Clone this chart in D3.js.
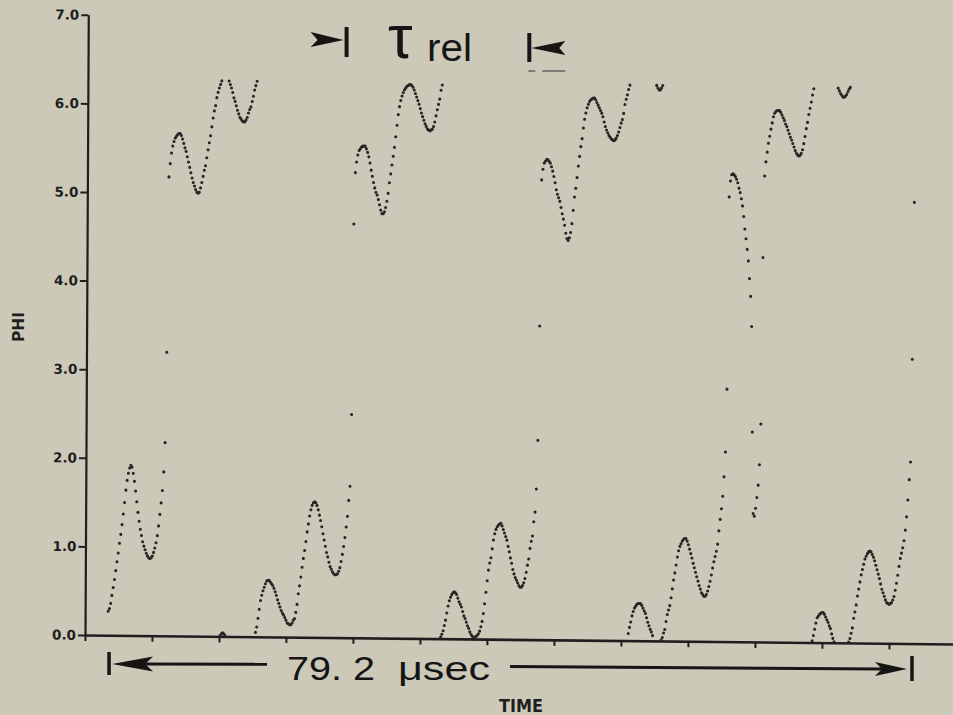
<!DOCTYPE html>
<html>
<head>
<meta charset="utf-8">
<script src="https://cdn.jsdelivr.net/npm/d3@7"></script>
<style>
  html, body { margin: 0; padding: 0; background: #cdc9b8; }
  svg { display: block; }
</style>
</head>
<body>
<svg id="chart" width="953" height="715"></svg>
<script>
// Phase PHI (radians, wrapped to 0..2π), one sample every 0.12 µs.
// Split into consecutive sweeps of the phase record.
const phiSweep1 = [
  0.27, 0.30, 0.36, 0.45, 0.54, 0.63, 0.73, 0.83, 0.93, 1.04,
  1.14, 1.25, 1.37, 1.50, 1.64, 1.75, 1.83, 1.89, 1.92, 1.90,
  1.83, 1.74, 1.63, 1.51, 1.39, 1.29, 1.20, 1.13, 1.06, 1.01,
  0.97, 0.93, 0.90, 0.88, 0.87, 0.88, 0.90, 0.94, 0.99, 1.05,
  1.13, 1.24, 1.37, 1.50, 1.64, 1.85, 2.18, 3.20, 5.18, 5.33,
  5.45, 5.53, 5.58, 5.62, 5.64, 5.66, 5.67, 5.67, 5.65, 5.61,
  5.56, 5.51, 5.47, 5.41, 5.35, 5.29, 5.23, 5.17, 5.12, 5.08,
  5.04, 5.01, 5.00, 5.01, 5.06, 5.12, 5.19, 5.26, 5.31, 5.40,
  5.49, 5.57, 5.65, 5.75, 5.85, 5.93, 5.99, 6.08, 6.14, 6.19,
  6.23, 6.27, 0.01, 0.03, 0.04, 0.03, 0.01, 6.27, 6.23, 6.19,
  6.14, 6.08, 6.04, 5.99, 5.94, 5.90, 5.86, 5.84, 5.82, 5.81,
  5.81, 5.83, 5.86, 5.91, 5.95, 5.98, 6.04, 6.10, 6.17, 6.22,
  6.27
];
const phiSweep2 = [
  0.05, 0.11, 0.21, 0.31, 0.41, 0.47, 0.52, 0.56, 0.60, 0.63,
  0.64, 0.64, 0.62, 0.60, 0.58, 0.55, 0.51, 0.47, 0.42, 0.38,
  0.34, 0.30, 0.27, 0.25, 0.22, 0.19, 0.16, 0.15, 0.14, 0.14,
  0.16, 0.19, 0.21, 0.28, 0.37, 0.49, 0.58, 0.68, 0.79, 0.89,
  0.98, 1.08, 1.19, 1.28, 1.37, 1.44, 1.49, 1.52, 1.53, 1.52,
  1.49, 1.44, 1.38, 1.32, 1.25, 1.17, 1.10, 1.03, 0.96, 0.91,
  0.85, 0.80, 0.77, 0.74, 0.72, 0.71, 0.71, 0.72, 0.75, 0.79,
  0.86, 0.94, 1.03, 1.13, 1.25, 1.37, 1.55, 1.71, 2.52, 4.67,
  5.25, 5.37, 5.45, 5.50, 5.52, 5.54, 5.55, 5.55, 5.55, 5.52,
  5.48, 5.43, 5.36, 5.28, 5.21, 5.14, 5.08, 5.03, 5.00, 4.95,
  4.89, 4.83, 4.79, 4.79, 4.81, 4.86, 4.93, 5.02, 5.14, 5.24,
  5.34, 5.44, 5.54, 5.66, 5.79, 5.91, 6.00, 6.07, 6.12, 6.16,
  6.19, 6.21, 6.23, 6.24, 6.25, 6.25, 6.24, 6.22, 6.19, 6.15,
  6.11, 6.07, 6.03, 5.98, 5.93, 5.89, 5.85, 5.81, 5.78, 5.75,
  5.74, 5.73, 5.74, 5.75, 5.78, 5.83, 5.90, 5.97, 6.03, 6.09,
  6.19, 6.25
];
const phiSweep3 = [
  0.02, 0.05, 0.09, 0.15, 0.21, 0.29, 0.37, 0.43, 0.47, 0.50,
  0.52, 0.53, 0.52, 0.50, 0.46, 0.42, 0.39, 0.36, 0.31, 0.26,
  0.23, 0.19, 0.15, 0.12, 0.08, 0.05, 0.03, 0.02, 0.02, 0.03,
  0.04, 0.06, 0.09, 0.14, 0.20, 0.29, 0.40, 0.53, 0.66, 0.78,
  0.86, 0.92, 1.02, 1.12, 1.19, 1.24, 1.27, 1.29, 1.30, 1.31,
  1.28, 1.24, 1.20, 1.16, 1.12, 1.05, 0.99, 0.92, 0.86, 0.79,
  0.74, 0.70, 0.67, 0.64, 0.61, 0.59, 0.59, 0.61, 0.64, 0.69,
  0.76, 0.84, 0.91, 1.03, 1.11, 1.17, 1.33, 1.44, 1.70, 2.25,
  3.54, 5.19, 5.31, 5.38, 5.40, 5.42, 5.42, 5.40, 5.38, 5.34,
  5.29, 5.23, 5.16, 5.08, 5.03, 4.99, 4.95, 4.88, 4.81, 4.75,
  4.68, 4.59, 4.53, 4.51, 4.54, 4.60, 4.70, 4.85, 5.00, 5.10,
  5.22, 5.35, 5.46, 5.57, 5.66, 5.78, 5.88, 5.95, 6.01, 6.05,
  6.08, 6.10, 6.11, 6.12, 6.12, 6.10, 6.07, 6.04, 6.01, 5.98,
  5.95, 5.91, 5.85, 5.80, 5.76, 5.73, 5.70, 5.68, 5.66, 5.65,
  5.64, 5.65, 5.67, 5.70, 5.74, 5.79, 5.84, 5.88, 5.95, 6.05,
  6.11, 6.16, 6.22, 6.27
];
const phiSweep4 = [
  0.08, 0.15, 0.21, 0.28, 0.33, 0.37, 0.39, 0.41, 0.42, 0.42,
  0.42, 0.40, 0.37, 0.34, 0.31, 0.26, 0.21, 0.17, 0.13, 0.10,
  0.06, 6.27, 6.24, 6.22, 6.22, 6.24, 6.27, 0.01, 0.04, 0.09,
  0.13, 0.22, 0.30, 0.35, 0.40, 0.49, 0.59, 0.69, 0.77, 0.86,
  0.95, 1.02, 1.07, 1.10, 1.13, 1.15, 1.16, 1.16, 1.13, 1.09,
  1.04, 0.99, 0.94, 0.88, 0.83, 0.78, 0.73, 0.68, 0.63, 0.59,
  0.55, 0.53, 0.51, 0.51, 0.53, 0.57, 0.62, 0.68, 0.75, 0.83,
  0.90, 0.96, 1.02, 1.10, 1.25, 1.38, 1.50, 1.64, 1.86, 2.14,
  2.85, 5.02, 5.20, 5.27, 5.28, 5.27, 5.25, 5.22, 5.18, 5.12,
  5.07, 5.00, 4.92, 4.80, 4.66, 4.55, 4.43, 4.30, 4.10, 3.90,
  3.56, 2.37, 1.45, 1.42, 1.51, 1.63, 1.77, 2.00, 2.46, 4.34,
  5.26, 5.42, 5.53, 5.63, 5.71, 5.79, 5.86, 5.93, 5.97, 5.99,
  6.00, 6.00, 6.00, 5.98, 5.95, 5.92, 5.89, 5.85, 5.82, 5.78,
  5.74, 5.70, 5.67, 5.63, 5.59, 5.55, 5.52, 5.50, 5.49, 5.50,
  5.52, 5.56, 5.63, 5.71, 5.80, 5.87, 5.96, 6.03, 6.10, 6.18,
  6.25
];
const phiSweep5 = [
  0.02, 0.08, 0.15, 0.22, 0.28, 0.30, 0.32, 0.33, 0.34, 0.34,
  0.32, 0.29, 0.26, 0.23, 0.19, 0.16, 0.10, 0.05, 0.01, 6.26,
  6.23, 6.20, 6.18, 6.16, 6.16, 6.17, 6.19, 6.22, 6.25, 6.27,
  0.01, 0.05, 0.11, 0.17, 0.28, 0.35, 0.43, 0.53, 0.61, 0.69,
  0.77, 0.83, 0.89, 0.95, 0.98, 1.01, 1.03, 1.04, 1.03, 1.00,
  0.97, 0.93, 0.88, 0.83, 0.78, 0.73, 0.67, 0.61, 0.57, 0.53,
  0.49, 0.46, 0.45, 0.44, 0.45, 0.46, 0.49, 0.53, 0.60, 0.68,
  0.77, 0.87, 0.96, 1.02, 1.08, 1.16, 1.28, 1.43, 1.62, 1.85,
  2.05, 3.21, 4.98
];

const sampleStepUs = 0.12;          // time between plotted samples
const spanUs = 79.2;                // length of the record
const tauRelUs = [23.5, 41.5];      // relaxation interval marked on top
const yTicks = [0, 1, 2, 3, 4, 5, 6, 7];
const xTicks = [-2.27, 4.33, 10.93, 17.53, 24.13, 30.73, 37.33, 43.93,
                50.53, 57.13, 63.73, 70.33, 76.93];

const phi = [].concat(phiSweep1, phiSweep2, phiSweep3, phiSweep4, phiSweep5);
const samples = phi.map((v, i) => ({ t: i * sampleStepUs, phi: v }));

const svg = d3.select("#chart");
const ink = "#1e1e1e";

const x = d3.scaleLinear().domain([-2.27, 83.24]).range([85, 953]);
const y = d3.scaleLinear().domain([0, 7]).range([635, 14.8]);

// plot frame is slightly skewed on the sheet
const plot = svg.append("g")
  .attr("transform", "matrix(1,0.0104,-0.0053,1,3.366,-0.884)");

// y axis
const yAxis = plot.append("g")
  .attr("transform", `translate(${x.range()[0]},0)`)
  .call(d3.axisLeft(y).tickValues(yTicks).tickFormat(d3.format(".1f"))
        .tickSize(7).tickPadding(2).tickSizeOuter(0));
yAxis.select(".domain").attr("stroke", ink).attr("stroke-width", 2.2);
yAxis.selectAll(".tick line").attr("stroke", ink).attr("stroke-width", 2);
yAxis.selectAll(".tick text")
  .attr("fill", ink)
  .style("font-family", "'DejaVu Sans', sans-serif")
  .style("font-weight", "bold")
  .style("font-size", "13.5px");

// x axis (unlabelled ticks)
const xAxis = plot.append("g")
  .attr("transform", `translate(0,${y(0)})`)
  .call(d3.axisBottom(x).tickValues(xTicks).tickFormat("")
        .tickSize(6).tickSizeOuter(0));
xAxis.select(".domain").attr("stroke", ink).attr("stroke-width", 2.6);
xAxis.selectAll(".tick line").attr("stroke", ink).attr("stroke-width", 2);

// phase samples
plot.append("g")
  .selectAll("circle")
  .data(samples)
  .join("circle")
  .attr("cx", d => x(d.t))
  .attr("cy", d => y(d.phi))
  .attr("r", 1.55)
  .attr("fill", "#262626");

// axis titles
svg.append("text")
  .attr("transform", "translate(24,327) rotate(-90)")
  .attr("text-anchor", "middle")
  .attr("fill", ink)
  .style("font-family", "'DejaVu Sans', sans-serif")
  .style("font-weight", "bold")
  .style("font-size", "15px")
  .attr("textLength", 30)
  .attr("lengthAdjust", "spacingAndGlyphs")
  .text("PHI");

svg.append("text")
  .attr("x", 521).attr("y", 712)
  .attr("text-anchor", "middle")
  .attr("fill", ink)
  .style("font-family", "'DejaVu Sans', sans-serif")
  .style("font-weight", "bold")
  .style("font-size", "18px")
  .attr("textLength", 44)
  .attr("lengthAdjust", "spacingAndGlyphs")
  .text("TIME");

// hand annotations
const hand = svg.append("g").attr("fill", "#151515").attr("stroke", "#151515");
const handFont = "'Liberation Sans', Arial, sans-serif";

// record length arrow
const x0 = x(0), x1 = x(spanUs);
hand.append("line").attr("x1", x0 + 1).attr("x2", x0 + 1)
  .attr("y1", 652).attr("y2", 675).attr("stroke-width", 3.5);
hand.append("path").attr("stroke", "none")
  .attr("d", `M${x0 + 4},664 L${x0 + 45},656.5 L${x0 + 37},664 L${x0 + 45},671.5 Z`);
hand.append("line").attr("x1", x0 + 36).attr("x2", 267)
  .attr("y1", 664).attr("y2", 664.3).attr("stroke-width", 3);
hand.append("text").attr("x", 287).attr("y", 680).attr("stroke", "none")
  .style("font-family", handFont).style("font-size", "34px")
  .attr("textLength", 88).attr("lengthAdjust", "spacingAndGlyphs")
  .text("79. 2");
hand.append("text").attr("x", 398).attr("y", 680).attr("stroke", "none")
  .style("font-family", handFont).style("font-size", "34px")
  .attr("textLength", 92).attr("lengthAdjust", "spacingAndGlyphs")
  .text("μsec");
hand.append("line").attr("x1", 510).attr("x2", x1 - 30)
  .attr("y1", 666.5).attr("y2", 669).attr("stroke-width", 3);
hand.append("path").attr("stroke", "none")
  .attr("d", `M${x1 - 5},669 L${x1 - 37},662 L${x1 - 30},669 L${x1 - 37},676 Z`);
hand.append("line").attr("x1", x1).attr("x2", x1)
  .attr("y1", 656).attr("y2", 681).attr("stroke-width", 3.5);

// relaxation interval marker
const ta = x(tauRelUs[0]), tb = x(tauRelUs[1]);
hand.append("path").attr("stroke", "none")
  .attr("d", `M${ta - 36},32 L${ta - 3},40 L${ta - 36},47 L${ta - 29},40 Z`);
hand.append("line").attr("x1", ta).attr("x2", ta)
  .attr("y1", 27).attr("y2", 57).attr("stroke-width", 4);
hand.append("text").attr("x", 388).attr("y", 58).attr("stroke", "none")
  .style("font-family", handFont).style("font-size", "62px")
  .text("τ");
hand.append("text").attr("x", 427).attr("y", 61).attr("stroke", "none")
  .style("font-family", handFont).style("font-size", "38px")
  .attr("textLength", 45).attr("lengthAdjust", "spacingAndGlyphs")
  .text("rel");
hand.append("line").attr("x1", tb).attr("x2", tb)
  .attr("y1", 33).attr("y2", 62).attr("stroke-width", 4);
hand.append("path").attr("stroke", "none")
  .attr("d", `M${tb + 2},48 L${tb + 36},41 L${tb + 30},48 L${tb + 36},55 Z`);
hand.append("line").attr("x1", tb - 1).attr("x2", tb + 6)
  .attr("y1", 71).attr("y2", 71).attr("stroke", "#5a5a5a").attr("stroke-width", 1.4);
hand.append("line").attr("x1", tb + 13).attr("x2", tb + 36)
  .attr("y1", 71).attr("y2", 71).attr("stroke", "#5a5a5a").attr("stroke-width", 1.4);
</script>
</body>
</html>
